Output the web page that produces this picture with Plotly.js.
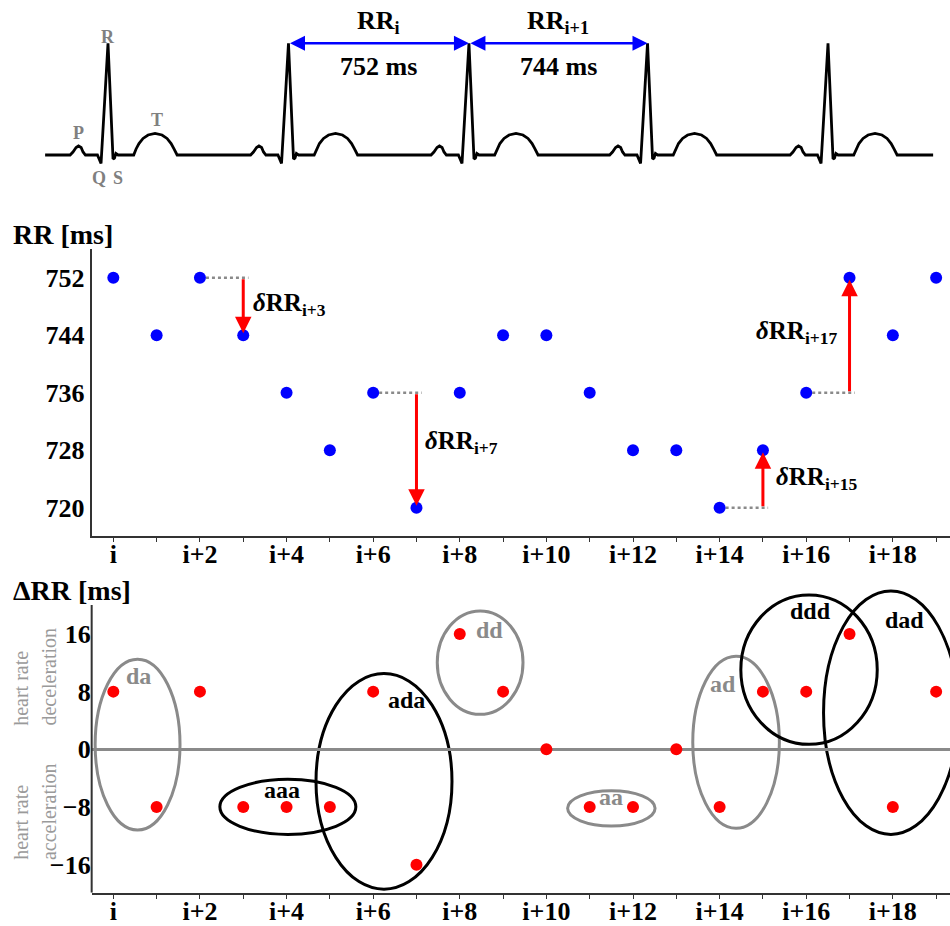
<!DOCTYPE html>
<html><head><meta charset="utf-8">
<script src="https://cdn.plot.ly/plotly-3.0.1.min.js"></script>
<style>html,body{margin:0;padding:0;background:#fff}#chart{width:950px;height:926px}</style>
</head><body><div id="chart"></div>
<script>
// ---------------- data ----------------
const beatIndex = [0,1,2,3,4,5,6,7,8,9,10,11,12,13,14,15,16,17,18,19];
const tickLabels = ['i','','i+2','','i+4','','i+6','','i+8','','i+10','','i+12','','i+14','','i+16','','i+18',''];
const rrValues  = [752,744,752,744,736,728,736,720,736,744,744,736,728,728,720,728,736,752,744,752];
const dRRValues = [8,-8,8,-8,-8,-8,8,-16,16,8,0,-8,-8,0,-8,8,8,16,-8,8];
const rrTickVals  = [720,728,736,744,752];
const dRRTickVals = [-16,-8,0,8,16];
const dRRTickText = ['\u221216','\u22128','0','8','16'];
const deltaMarked = [3,7,15,17];            // beats whose δRR is drawn
const patternNames = ['da','aaa','ada','dd','aa','ad','ddd','dad'];

// ECG schematic: R-peak times (ms) and one beat template (offset ms, relative amplitude)
const rPeakTimes   = [0,752,1504,2248,3000];
const beatOffsetMs = [-158,-146,-133,-123,-112,-104,-94,-44,-29,0,21,27,33,42,107,117,129,146,167,196,225,246,263,275,288];
const beatAmp      = [0,0.027,0.067,0.081,0.067,0.027,0,0,-0.076,1,-0.036,-0.027,0.013,0,0,0.054,0.103,0.148,0.179,0.194,0.179,0.148,0.103,0.054,0];
const ecgStartMs = -262, ecgEndMs = 3438;
const markedIntervals = [1,2];  // RR_i between beats 1-2, RR_{i+1} between 2-3
const intervalNames = ['RR<sub>i</sub>','RR<sub>i+1</sub>'];

// ---------------- build ----------------
const FONT = 'Liberation Serif, Times New Roman, serif';
const GRAY = '#8a8a8a';
const AXC = '#333';

const ecgT = [ecgStartMs], ecgV = [0];
rPeakTimes.forEach(r => beatOffsetMs.forEach((o, j) => { ecgT.push(r + o); ecgV.push(beatAmp[j]); }));
ecgT.push(ecgEndMs); ecgV.push(0);

const traces = [
  {x: ecgT, y: ecgV, xaxis: 'x3', yaxis: 'y3', mode: 'lines', line: {color: '#000', width: 2.8}, hoverinfo: 'skip'},
  {x: beatIndex, y: rrValues, xaxis: 'x', yaxis: 'y', mode: 'markers', marker: {color: '#0000ff', size: 12}},
  {x: beatIndex, y: dRRValues, xaxis: 'x2', yaxis: 'y2', mode: 'markers', marker: {color: '#ff0000', size: 12}}
];

const annotations = [];
const shapes = [];

// ECG labels
const ecgLbl = (t, x, y) => annotations.push({xref: 'x3', yref: 'y3', x: x, y: y, text: t, showarrow: false,
  font: {family: FONT, size: 18, color: '#808080', weight: 'bold'}});
ecgLbl('R', rPeakTimes[0], 1.056);
ecgLbl('P', rPeakTimes[0] - 125, 0.197);
ecgLbl('T', rPeakTimes[0] + 204, 0.313);
ecgLbl('Q', rPeakTimes[0] - 38, -0.21);
ecgLbl('S', rPeakTimes[0] + 42, -0.21);

markedIntervals.forEach((k, n) => {
  const t0 = rPeakTimes[k], t1 = rPeakTimes[k + 1];
  annotations.push({xref: 'x3', yref: 'y3', axref: 'x3', ayref: 'y3', x: t1, y: 1, ax: t0, ay: 1, text: '',
    showarrow: true, arrowside: 'end+start', arrowhead: 2, startarrowhead: 2, arrowsize: 1.2, startarrowsize: 1.2,
    arrowwidth: 2.5, arrowcolor: '#0000ff', standoff: 0, startstandoff: 0});
  annotations.push({xref: 'x3', yref: 'y3', x: (t0 + t1) / 2, y: 1.194, text: intervalNames[n], showarrow: false,
    font: {family: FONT, size: 26, color: '#000', weight: 'bold'}});
  annotations.push({xref: 'x3', yref: 'y3', x: (t0 + t1) / 2, y: 0.791, text: (t1 - t0) + ' ms', showarrow: false,
    font: {family: FONT, size: 26, color: '#000', weight: 'bold'}});
});

// δRR arrows in RR panel
const deltaLabelPlace = [
  {dx: 0.19, dy: 0.3, anchor: 'left'},
  {dx: 0.15, dy: 1.1, anchor: 'left'},
  {dx: 0.26, dy: 0.0, anchor: 'left'},
  {dx: -0.23, dy: 0.4, anchor: 'right'}
];
deltaMarked.forEach((k, n) => {
  const yPrev = rrValues[k - 1], yCur = rrValues[k];
  shapes.push({type: 'line', xref: 'x', yref: 'y', x0: beatIndex[k - 1], x1: beatIndex[k] + 0.12, y0: yPrev, y1: yPrev,
    line: {color: GRAY, width: 2.5, dash: 'dot'}, layer: 'below'});
  annotations.push({xref: 'x', yref: 'y', axref: 'x', ayref: 'y', x: beatIndex[k], y: yCur, ax: beatIndex[k], ay: yPrev,
    text: '', showarrow: true, arrowhead: 2, arrowsize: 1.1, arrowwidth: 3, arrowcolor: '#ff0000', standoff: 2});
  const p = deltaLabelPlace[n];
  annotations.push({xref: 'x', yref: 'y', x: beatIndex[k] + p.dx, y: (yPrev + yCur) / 2 + p.dy, xanchor: p.anchor,
    text: '<i>\u03b4</i>RR<sub>i+' + k + '</sub>', showarrow: false,
    font: {family: FONT, size: 25, color: '#000', weight: 'bold'}});
});

// pattern ellipses in ΔRR panel (x0,x1 in beat index, y0,y1 in ms), label position
const patternBox = [
  {x0: -0.42, x1: 1.54, y0: -11.2, y1: 12.5, c: GRAY, lx: 0.58, ly: 10.2},
  {x0: 2.46, x1: 5.60, y0: -11.8, y1: -4.16, c: '#000', lx: 3.89, ly: -5.6},
  {x0: 4.68, x1: 7.82, y0: -19.4, y1: 10.5, c: '#000', lx: 6.76, ly: 6.85},
  {x0: 7.48, x1: 9.46, y0: 4.85, y1: 19.2, c: GRAY, lx: 8.69, ly: 16.5},
  {x0: 10.49, x1: 12.51, y0: -10.64, y1: -5.74, c: GRAY, lx: 11.49, ly: -6.6},
  {x0: 13.38, x1: 15.38, y0: -10.96, y1: 12.9, c: GRAY, lx: 14.08, ly: 9.0},
  {x0: 14.49, x1: 17.64, y0: 0.69, y1: 21.4, c: '#000', lx: 16.1, ly: 19.2},
  {x0: 16.40, x1: 19.51, y0: -11.8, y1: 21.96, c: '#000', lx: 18.26, ly: 18.0}
];
patternNames.forEach((name, n) => {
  const b = patternBox[n];
  shapes.push({type: 'circle', xref: 'x2', yref: 'y2', x0: b.x0, x1: b.x1, y0: b.y0, y1: b.y1,
    line: {color: b.c, width: 3}, layer: 'below'});
  annotations.push({xref: 'x2', yref: 'y2', x: b.lx, y: b.ly, text: name, showarrow: false,
    font: {family: FONT, size: 24, color: b.c, weight: 'bold'}});
});

// ΔRR y axis line (drawn as shape so ellipses may extend above it)
shapes.push({type: 'line', xref: 'paper', yref: 'y2', x0: 0.0965, x1: 0.0965, y0: -19.89, y1: 20.0,
  line: {color: AXC, width: 2}});

// axis titles & side labels
annotations.push({xref: 'paper', yref: 'paper', x: 11 / 950, y: 1 - 234.2 / 926, xanchor: 'left', yanchor: 'middle',
  text: 'RR [ms]', showarrow: false, font: {family: FONT, size: 28, color: '#000', weight: 'bold'}});
annotations.push({xref: 'paper', yref: 'paper', x: 11 / 950, y: 1 - 590.2 / 926, xanchor: 'left', yanchor: 'middle',
  text: '\u0394RR [ms]', showarrow: false, font: {family: FONT, size: 28, color: '#000', weight: 'bold'}});
const sideLbl = (t, xpx, ybot) => annotations.push({xref: 'paper', yref: 'paper', x: xpx / 950, y: 1 - ybot / 926,
  xanchor: 'center', yanchor: 'bottom', textangle: -90, text: t, showarrow: false,
  font: {family: FONT, size: 20, color: '#9a9a9a'}});
sideLbl('heart rate', 20.3, 728);
sideLbl('deceleration', 48.6, 728);
sideLbl('heart rate', 20.3, 862);
sideLbl('acceleration', 48.6, 862);

const tickFont = {family: FONT, size: 26, color: '#000', weight: 'bold'};
const xBase = {range: [-0.5, 19.32], domain: [0.0965, 1], showline: true, linecolor: AXC, linewidth: 2,
  ticks: 'outside', ticklen: 4, tickwidth: 1, tickcolor: AXC, tickvals: beatIndex, ticktext: tickLabels,
  tickfont: tickFont, ticklabelstandoff: -10, showgrid: false, zeroline: false, fixedrange: true};

const layout = {
  width: 950, height: 926, margin: {l: 0, r: 0, t: 0, b: 0}, showlegend: false,
  paper_bgcolor: '#fff', plot_bgcolor: 'rgba(0,0,0,0)', font: {family: FONT},
  xaxis: Object.assign({}, xBase, {anchor: 'y'}),
  yaxis: {anchor: 'x', domain: [1 - 536 / 926, 1 - 249.3 / 926], range: [716.06, 755.95], showline: true,
    linecolor: AXC, linewidth: 2, ticks: '', tickvals: rrTickVals, tickfont: tickFont, showgrid: false, zeroline: false},
  xaxis2: Object.assign({}, xBase, {anchor: 'y2'}),
  yaxis2: {anchor: 'x2', domain: [1 - 892.7 / 926, 1 - 585 / 926], range: [-19.89, 22.79], showline: false,
    ticks: '', tickvals: dRRTickVals, ticktext: dRRTickText, tickfont: tickFont, showgrid: false,
    zeroline: true, zerolinecolor: GRAY, zerolinewidth: 2.5},
  xaxis3: {anchor: 'y3', domain: [0, 1], range: [-450, 3508.3], visible: false},
  yaxis3: {anchor: 'x3', domain: [1 - 190 / 926, 1], range: [-0.3133, 1.3877], visible: false},
  annotations: annotations,
  shapes: shapes
};

Plotly.newPlot('chart', traces, layout, {displayModeBar: false, staticPlot: true});
</script>
</body></html>
